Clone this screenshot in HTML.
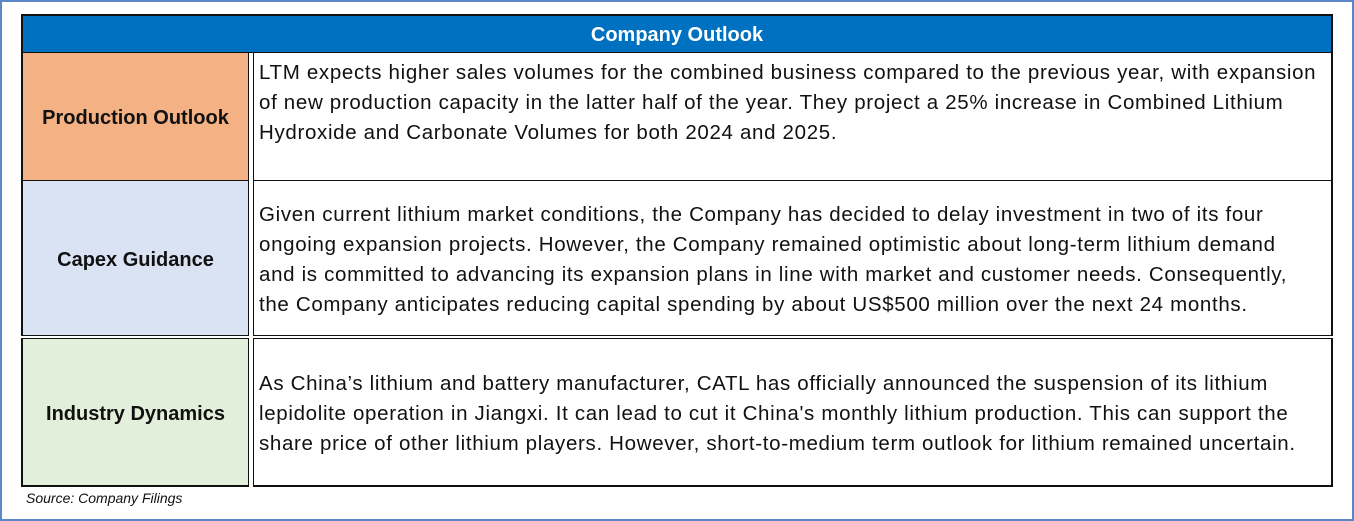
<!DOCTYPE html>
<html><head><meta charset="utf-8"><style>
*{margin:0;padding:0;box-sizing:border-box}
body{width:1354px;height:521px;background:#fff;position:relative;overflow:hidden;font-family:"Liberation Sans",sans-serif}
.frame{position:absolute;left:0;top:0;width:1354px;height:521px;border:2px solid #5b86c8}
.abs{position:absolute}
.hdr{left:21px;top:14px;width:1312px;height:39px;background:#0070c0;border:2px solid #111;border-bottom:1px solid #111;color:#fff;font-weight:bold;font-size:20px;text-align:center;line-height:39px}
.lab{left:21px;width:228px;border-left:2px solid #111;border-bottom:1px solid #111;border-right:1px solid #111;display:flex;align-items:center;justify-content:center;font-weight:bold;font-size:20px;color:#111;padding-top:4px}
.txt{left:253px;width:1080px;border-left:1px solid #111;border-right:2px solid #111;border-bottom:1px solid #111;font-size:20.5px;letter-spacing:0.67px;line-height:30px;color:#111;padding-left:5px;padding-top:4px;display:flex;align-items:center;white-space:nowrap;overflow:hidden}
.src{left:26px;top:490px;font-size:14px;font-style:italic;color:#111}
</style></head><body>
<div class="frame"></div>
<div class="abs hdr">Company Outlook</div>
<div class="abs lab" style="top:53px;height:128px;background:#f4b183">Production Outlook</div>
<div class="abs txt" style="top:53px;height:128px;align-items:flex-start;padding-top:5px"><div>LTM expects higher sales volumes for the combined business compared to the previous year, with expansion<br>of new production capacity in the latter half of the year. They project a 25% increase in Combined Lithium<br>Hydroxide and Carbonate Volumes for both 2024 and 2025.</div></div>
<div class="abs lab" style="top:181px;height:155px;background:#dae3f3">Capex Guidance</div>
<div class="abs txt" style="top:181px;height:155px"><div>Given current lithium market conditions, the Company has decided to delay investment in two of its four<br>ongoing expansion projects. However, the Company remained optimistic about long-term lithium demand<br>and is committed to advancing its expansion plans in line with market and customer needs. Consequently,<br>the Company anticipates reducing capital spending by about US$500 million over the next 24 months.</div></div>
<div class="abs lab" style="top:338px;height:149px;background:#e2efda;border-top:1px solid #111;border-bottom:2px solid #111">Industry Dynamics</div>
<div class="abs txt" style="top:338px;height:149px;border-top:1px solid #111;border-bottom:2px solid #111"><div>As China’s lithium and battery manufacturer, CATL has officially announced the suspension of its lithium<br>lepidolite operation in Jiangxi. It can lead to cut it China's monthly lithium production. This can support the<br>share price of other lithium players. However, short-to-medium term outlook for lithium remained uncertain.</div></div>
<div class="abs src">Source: Company Filings</div>
</body></html>
